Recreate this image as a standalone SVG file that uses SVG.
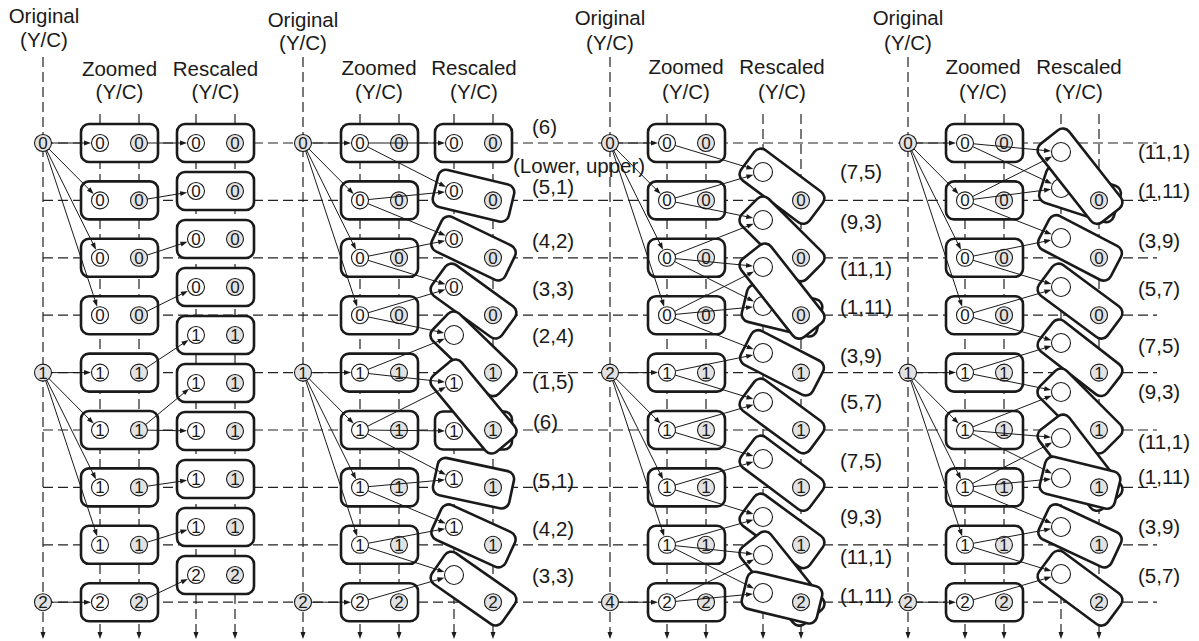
<svg xmlns="http://www.w3.org/2000/svg" width="1199" height="641" viewBox="0 0 1199 641">
<style>
.gl line{stroke:#222;stroke-width:1.2;stroke-dasharray:10 5;fill:none}
.gl .v{marker-end:url(#ad)}
.bx{fill:#fff;stroke:#1a1a1a;stroke-width:2.6}
.w{fill:#fff;stroke:#1a1a1a;stroke-width:1.1}
.gy{fill:#e2e2e2;stroke:#1a1a1a;stroke-width:1.1}
.d{font-family:"Liberation Sans",Arial,sans-serif;font-size:17px;text-anchor:middle;fill:#1a1a1a}
.t{font-family:"Liberation Sans",Arial,sans-serif;font-size:20.5px;text-anchor:middle;fill:#1a1a1a}
.l{font-family:"Liberation Sans",Arial,sans-serif;font-size:20.5px;fill:#1a1a1a}
.ar line{stroke:#1a1a1a;stroke-width:1;fill:none;marker-end:url(#ah)}
.ar line.e{marker-end:url(#ae)}
</style>
<defs>
<marker id="ah" markerUnits="userSpaceOnUse" markerWidth="8" markerHeight="6" refX="16" refY="3" orient="auto" overflow="visible"><path d="M0,0.5 L7,3 L0,5.5 z" fill="#1a1a1a"/></marker>
<marker id="ae" markerUnits="userSpaceOnUse" markerWidth="8" markerHeight="6" refX="17" refY="3" orient="auto" overflow="visible"><path d="M0,0.5 L7,3 L0,5.5 z" fill="#1a1a1a"/></marker>
<marker id="ad" markerUnits="userSpaceOnUse" markerWidth="8" markerHeight="6" refX="7" refY="3" orient="auto" overflow="visible"><path d="M0,0.5 L7,3 L0,5.5 z" fill="#1a1a1a"/></marker>
</defs>
<g id="grid" class="gl">
<line x1="43" y1="143" x2="1157" y2="143"/>
<line x1="43" y1="200.4" x2="1157" y2="200.4"/>
<line x1="43" y1="257.8" x2="1157" y2="257.8"/>
<line x1="43" y1="315.2" x2="1157" y2="315.2"/>
<line x1="43" y1="372.6" x2="1157" y2="372.6"/>
<line x1="43" y1="430" x2="1157" y2="430"/>
<line x1="43" y1="487.4" x2="1157" y2="487.4"/>
<line x1="43" y1="544.8" x2="1157" y2="544.8"/>
<line x1="43" y1="602.2" x2="1157" y2="602.2"/>
<line class="v" x1="43" y1="57" x2="43" y2="639"/>
<line class="v" x1="303" y1="57" x2="303" y2="639"/>
<line class="v" x1="610" y1="57" x2="610" y2="639"/>
<line class="v" x1="908" y1="57" x2="908" y2="639"/>
<line class="v" x1="100" y1="114" x2="100" y2="639"/>
<line class="v" x1="139" y1="114" x2="139" y2="639"/>
<line class="v" x1="196" y1="114" x2="196" y2="639"/>
<line class="v" x1="235" y1="114" x2="235" y2="639"/>
<line class="v" x1="360" y1="114" x2="360" y2="639"/>
<line class="v" x1="399" y1="114" x2="399" y2="639"/>
<line class="v" x1="454" y1="114" x2="454" y2="639"/>
<line class="v" x1="493" y1="114" x2="493" y2="639"/>
<line class="v" x1="667" y1="114" x2="667" y2="639"/>
<line class="v" x1="706" y1="114" x2="706" y2="639"/>
<line class="v" x1="763" y1="114" x2="763" y2="639"/>
<line class="v" x1="801" y1="114" x2="801" y2="639"/>
<line class="v" x1="965" y1="114" x2="965" y2="639"/>
<line class="v" x1="1004" y1="114" x2="1004" y2="639"/>
<line class="v" x1="1061" y1="114" x2="1061" y2="639"/>
<line class="v" x1="1099" y1="114" x2="1099" y2="639"/>
</g>
<g id="labels">
<text class="t" x="44" y="23">Original</text><text class="t" x="44" y="47">(Y/C)</text>
<text class="t" x="119.5" y="76">Zoomed</text><text class="t" x="119.5" y="99">(Y/C)</text>
<text class="t" x="215.5" y="76">Rescaled</text><text class="t" x="215.5" y="99">(Y/C)</text>
<text class="t" x="303" y="27">Original</text><text class="t" x="303" y="50">(Y/C)</text>
<text class="t" x="379" y="75">Zoomed</text><text class="t" x="379" y="99">(Y/C)</text>
<text class="t" x="474" y="75">Rescaled</text><text class="t" x="474" y="99">(Y/C)</text>
<text class="t" x="610" y="25">Original</text><text class="t" x="610" y="50">(Y/C)</text>
<text class="t" x="686" y="74">Zoomed</text><text class="t" x="686" y="99">(Y/C)</text>
<text class="t" x="782" y="74">Rescaled</text><text class="t" x="782" y="99">(Y/C)</text>
<text class="t" x="908" y="25">Original</text><text class="t" x="908" y="50">(Y/C)</text>
<text class="t" x="983" y="74">Zoomed</text><text class="t" x="983" y="99">(Y/C)</text>
<text class="t" x="1079" y="74">Rescaled</text><text class="t" x="1079" y="99">(Y/C)</text>
<text class="l" x="532" y="133.5">(6)</text>
<text class="l" x="513" y="172.5">(Lower, upper)</text>
<text class="l" x="532" y="193.5">(5,1)</text>
<text class="l" x="532" y="247.5">(4,2)</text>
<text class="l" x="532" y="295.5">(3,3)</text>
<text class="l" x="532" y="342.5">(2,4)</text>
<text class="l" x="532" y="388.5">(1,5)</text>
<text class="l" x="533" y="428.5">(6)</text>
<text class="l" x="532" y="487.5">(5,1)</text>
<text class="l" x="532" y="535.5">(4,2)</text>
<text class="l" x="532" y="582.5">(3,3)</text>
<text class="l" x="840" y="178.5">(7,5)</text>
<text class="l" x="840" y="228.5">(9,3)</text>
<text class="l" x="840" y="275.5">(11,1)</text>
<text class="l" x="840" y="313.5">(1,11)</text>
<text class="l" x="840" y="362.5">(3,9)</text>
<text class="l" x="840" y="408.5">(5,7)</text>
<text class="l" x="840" y="467.5">(7,5)</text>
<text class="l" x="840" y="523.5">(9,3)</text>
<text class="l" x="840" y="563.5">(11,1)</text>
<text class="l" x="840" y="602.5">(1,11)</text>
<text class="l" x="1138" y="158.5">(11,1)</text>
<text class="l" x="1138" y="197.5">(1,11)</text>
<text class="l" x="1138" y="247.5">(3,9)</text>
<text class="l" x="1138" y="295.5">(5,7)</text>
<text class="l" x="1138" y="352.5">(7,5)</text>
<text class="l" x="1138" y="398.5">(9,3)</text>
<text class="l" x="1138" y="448.5">(11,1)</text>
<text class="l" x="1138" y="483.5">(1,11)</text>
<text class="l" x="1138" y="533.5">(3,9)</text>
<text class="l" x="1138" y="582.5">(5,7)</text>
</g>
<!-- Panel 1 -->
<g id="p1-o0"><circle class="gy" cx="43" cy="143" r="8.5"/><text class="d" x="43" y="149">0</text></g>
<g id="p1-o1"><circle class="gy" cx="43" cy="372.6" r="8.5"/><text class="d" x="43" y="378.6">1</text></g>
<g id="p1-o2"><circle class="gy" cx="43" cy="602.2" r="8.5"/><text class="d" x="43" y="608.2">2</text></g>
<g id="p1-z0"><rect class="bx" x="81" y="124" width="77" height="38" rx="8"/><circle class="w" cx="100" cy="143" r="8.5"/><text class="d" x="100" y="149">0</text><circle class="gy" cx="139" cy="143" r="8.5"/><text class="d" x="139" y="149">0</text></g>
<g id="p1-z1"><rect class="bx" x="81" y="181.4" width="77" height="38" rx="8"/><circle class="w" cx="100" cy="200.4" r="8.5"/><text class="d" x="100" y="206.4">0</text><circle class="gy" cx="139" cy="200.4" r="8.5"/><text class="d" x="139" y="206.4">0</text></g>
<g id="p1-z2"><rect class="bx" x="81" y="238.8" width="77" height="38" rx="8"/><circle class="w" cx="100" cy="257.8" r="8.5"/><text class="d" x="100" y="263.8">0</text><circle class="gy" cx="139" cy="257.8" r="8.5"/><text class="d" x="139" y="263.8">0</text></g>
<g id="p1-z3"><rect class="bx" x="81" y="296.2" width="77" height="38" rx="8"/><circle class="w" cx="100" cy="315.2" r="8.5"/><text class="d" x="100" y="321.2">0</text><circle class="gy" cx="139" cy="315.2" r="8.5"/><text class="d" x="139" y="321.2">0</text></g>
<g id="p1-z4"><rect class="bx" x="81" y="353.6" width="77" height="38" rx="8"/><circle class="w" cx="100" cy="372.6" r="8.5"/><text class="d" x="100" y="378.6">1</text><circle class="gy" cx="139" cy="372.6" r="8.5"/><text class="d" x="139" y="378.6">1</text></g>
<g id="p1-z5"><rect class="bx" x="81" y="411" width="77" height="38" rx="8"/><circle class="w" cx="100" cy="430" r="8.5"/><text class="d" x="100" y="436">1</text><circle class="gy" cx="139" cy="430" r="8.5"/><text class="d" x="139" y="436">1</text></g>
<g id="p1-z6"><rect class="bx" x="81" y="468.4" width="77" height="38" rx="8"/><circle class="w" cx="100" cy="487.4" r="8.5"/><text class="d" x="100" y="493.4">1</text><circle class="gy" cx="139" cy="487.4" r="8.5"/><text class="d" x="139" y="493.4">1</text></g>
<g id="p1-z7"><rect class="bx" x="81" y="525.8" width="77" height="38" rx="8"/><circle class="w" cx="100" cy="544.8" r="8.5"/><text class="d" x="100" y="550.8">1</text><circle class="gy" cx="139" cy="544.8" r="8.5"/><text class="d" x="139" y="550.8">1</text></g>
<g id="p1-z8"><rect class="bx" x="81" y="583.2" width="77" height="38" rx="8"/><circle class="w" cx="100" cy="602.2" r="8.5"/><text class="d" x="100" y="608.2">2</text><circle class="gy" cx="139" cy="602.2" r="8.5"/><text class="d" x="139" y="608.2">2</text></g>
<g id="p1-r0"><rect class="bx" x="177" y="124" width="77" height="38" rx="8"/><circle class="w" cx="196" cy="143" r="8.5"/><text class="d" x="196" y="149">0</text><circle class="gy" cx="235" cy="143" r="8.5"/><text class="d" x="235" y="149">0</text></g>
<g id="p1-r1"><rect class="bx" x="177" y="172" width="77" height="38" rx="8"/><circle class="w" cx="196" cy="191" r="8.5"/><text class="d" x="196" y="197">0</text><circle class="gy" cx="235" cy="191" r="8.5"/><text class="d" x="235" y="197">0</text></g>
<g id="p1-r2"><rect class="bx" x="177" y="220" width="77" height="38" rx="8"/><circle class="w" cx="196" cy="239" r="8.5"/><text class="d" x="196" y="245">0</text><circle class="gy" cx="235" cy="239" r="8.5"/><text class="d" x="235" y="245">0</text></g>
<g id="p1-r3"><rect class="bx" x="177" y="268" width="77" height="38" rx="8"/><circle class="w" cx="196" cy="287" r="8.5"/><text class="d" x="196" y="293">0</text><circle class="gy" cx="235" cy="287" r="8.5"/><text class="d" x="235" y="293">0</text></g>
<g id="p1-r4"><rect class="bx" x="177" y="316" width="77" height="38" rx="8"/><circle class="w" cx="196" cy="335" r="8.5"/><text class="d" x="196" y="341">1</text><circle class="gy" cx="235" cy="335" r="8.5"/><text class="d" x="235" y="341">1</text></g>
<g id="p1-r5"><rect class="bx" x="177" y="364" width="77" height="38" rx="8"/><circle class="w" cx="196" cy="383" r="8.5"/><text class="d" x="196" y="389">1</text><circle class="gy" cx="235" cy="383" r="8.5"/><text class="d" x="235" y="389">1</text></g>
<g id="p1-r6"><rect class="bx" x="177" y="412" width="77" height="38" rx="8"/><circle class="w" cx="196" cy="431" r="8.5"/><text class="d" x="196" y="437">1</text><circle class="gy" cx="235" cy="431" r="8.5"/><text class="d" x="235" y="437">1</text></g>
<g id="p1-r7"><rect class="bx" x="177" y="460" width="77" height="38" rx="8"/><circle class="w" cx="196" cy="479" r="8.5"/><text class="d" x="196" y="485">1</text><circle class="gy" cx="235" cy="479" r="8.5"/><text class="d" x="235" y="485">1</text></g>
<g id="p1-r8"><rect class="bx" x="177" y="508" width="77" height="38" rx="8"/><circle class="w" cx="196" cy="527" r="8.5"/><text class="d" x="196" y="533">1</text><circle class="gy" cx="235" cy="527" r="8.5"/><text class="d" x="235" y="533">1</text></g>
<g id="p1-r9"><rect class="bx" x="177" y="556" width="77" height="38" rx="8"/><circle class="w" cx="196" cy="575" r="8.5"/><text class="d" x="196" y="581">2</text><circle class="gy" cx="235" cy="575" r="8.5"/><text class="d" x="235" y="581">2</text></g>
<!-- Panel 2 -->
<g id="p2-o0"><circle class="gy" cx="303" cy="143" r="8.5"/><text class="d" x="303" y="149">0</text></g>
<g id="p2-o1"><circle class="gy" cx="303" cy="372.6" r="8.5"/><text class="d" x="303" y="378.6">1</text></g>
<g id="p2-o2"><circle class="gy" cx="303" cy="602.2" r="8.5"/><text class="d" x="303" y="608.2">2</text></g>
<g id="p2-z0"><rect class="bx" x="341" y="124" width="77" height="38" rx="8"/><circle class="w" cx="360" cy="143" r="8.5"/><text class="d" x="360" y="149">0</text><circle class="gy" cx="399" cy="143" r="8.5"/><text class="d" x="399" y="149">0</text></g>
<g id="p2-z1"><rect class="bx" x="341" y="181.4" width="77" height="38" rx="8"/><circle class="w" cx="360" cy="200.4" r="8.5"/><text class="d" x="360" y="206.4">0</text><circle class="gy" cx="399" cy="200.4" r="8.5"/><text class="d" x="399" y="206.4">0</text></g>
<g id="p2-z2"><rect class="bx" x="341" y="238.8" width="77" height="38" rx="8"/><circle class="w" cx="360" cy="257.8" r="8.5"/><text class="d" x="360" y="263.8">0</text><circle class="gy" cx="399" cy="257.8" r="8.5"/><text class="d" x="399" y="263.8">0</text></g>
<g id="p2-z3"><rect class="bx" x="341" y="296.2" width="77" height="38" rx="8"/><circle class="w" cx="360" cy="315.2" r="8.5"/><text class="d" x="360" y="321.2">0</text><circle class="gy" cx="399" cy="315.2" r="8.5"/><text class="d" x="399" y="321.2">0</text></g>
<g id="p2-z4"><rect class="bx" x="341" y="353.6" width="77" height="38" rx="8"/><circle class="w" cx="360" cy="372.6" r="8.5"/><text class="d" x="360" y="378.6">1</text><circle class="gy" cx="399" cy="372.6" r="8.5"/><text class="d" x="399" y="378.6">1</text></g>
<g id="p2-z5"><rect class="bx" x="341" y="411" width="77" height="38" rx="8"/><circle class="w" cx="360" cy="430" r="8.5"/><text class="d" x="360" y="436">1</text><circle class="gy" cx="399" cy="430" r="8.5"/><text class="d" x="399" y="436">1</text></g>
<g id="p2-z6"><rect class="bx" x="341" y="468.4" width="77" height="38" rx="8"/><circle class="w" cx="360" cy="487.4" r="8.5"/><text class="d" x="360" y="493.4">1</text><circle class="gy" cx="399" cy="487.4" r="8.5"/><text class="d" x="399" y="493.4">1</text></g>
<g id="p2-z7"><rect class="bx" x="341" y="525.8" width="77" height="38" rx="8"/><circle class="w" cx="360" cy="544.8" r="8.5"/><text class="d" x="360" y="550.8">1</text><circle class="gy" cx="399" cy="544.8" r="8.5"/><text class="d" x="399" y="550.8">1</text></g>
<g id="p2-z8"><rect class="bx" x="341" y="583.2" width="77" height="38" rx="8"/><circle class="w" cx="360" cy="602.2" r="8.5"/><text class="d" x="360" y="608.2">2</text><circle class="gy" cx="399" cy="602.2" r="8.5"/><text class="d" x="399" y="608.2">2</text></g>
<g id="p2-r0"><rect class="bx" x="435" y="124" width="77" height="38" rx="8"/><circle class="w" cx="454" cy="143" r="8.5"/><text class="d" x="454" y="149">0</text><circle class="gy" cx="493" cy="143" r="8.5"/><text class="d" x="493" y="149">0</text></g>
<g id="p2-r1"><rect class="bx" x="-39.05" y="-19" width="78.1" height="38" rx="8" transform="translate(473.5 195.7) rotate(13.55)"/><circle class="w" cx="454" cy="191" r="8.5"/><text class="d" x="454" y="197">0</text><circle class="gy" cx="493" cy="200.4" r="8.5"/><text class="d" x="493" y="206.4">0</text></g>
<g id="p2-r2"><rect class="bx" x="-40.65" y="-19" width="81.3" height="38" rx="8" transform="translate(473.5 248.4) rotate(25.74)"/><circle class="w" cx="454" cy="239" r="8.5"/><text class="d" x="454" y="245">0</text><circle class="gy" cx="493" cy="257.8" r="8.5"/><text class="d" x="493" y="263.8">0</text></g>
<g id="p2-r3"><rect class="bx" x="-43.05" y="-19" width="86.1" height="38" rx="8" transform="translate(473.5 301.1) rotate(35.87)"/><circle class="w" cx="454" cy="287" r="8.5"/><text class="d" x="454" y="293">0</text><circle class="gy" cx="493" cy="315.2" r="8.5"/><text class="d" x="493" y="321.2">0</text></g>
<g id="p2-r4"><rect class="bx" x="-46.1" y="-19" width="92.2" height="38" rx="8" transform="translate(473.5 353.8) rotate(43.95)"/><circle class="w" cx="454" cy="335" r="9.5"/><circle class="gy" cx="493" cy="372.6" r="8.5"/><text class="d" x="493" y="378.6">1</text></g>
<g id="p2-r6"><rect class="bx" x="435" y="411.5" width="77" height="38" rx="8"/><circle class="w" cx="454" cy="431" r="8.5"/><text class="d" x="454" y="437">1</text><circle class="gy" cx="493" cy="430" r="8.5"/><text class="d" x="493" y="436">1</text></g>
<g id="p2-r5"><rect class="bx" x="-49.55" y="-19" width="99.1" height="38" rx="8" transform="translate(473.5 406.5) rotate(50.31)"/><circle class="w" cx="454" cy="383" r="8.5"/><text class="d" x="454" y="389">1</text><circle class="gy" cx="493" cy="430" r="8.5"/><text class="d" x="493" y="436">1</text></g>
<g id="p2-r7"><rect class="bx" x="-38.95" y="-19" width="77.9" height="38" rx="8" transform="translate(473.5 483.2) rotate(12.15)"/><circle class="w" cx="454" cy="479" r="8.5"/><text class="d" x="454" y="485">1</text><circle class="gy" cx="493" cy="487.4" r="8.5"/><text class="d" x="493" y="493.4">1</text></g>
<g id="p2-r8"><rect class="bx" x="-40.45" y="-19" width="80.9" height="38" rx="8" transform="translate(473.5 535.9) rotate(24.53)"/><circle class="w" cx="454" cy="527" r="8.5"/><text class="d" x="454" y="533">1</text><circle class="gy" cx="493" cy="544.8" r="8.5"/><text class="d" x="493" y="550.8">1</text></g>
<g id="p2-r9"><rect class="bx" x="-42.75" y="-19" width="85.5" height="38" rx="8" transform="translate(473.5 588.6) rotate(34.9)"/><circle class="w" cx="454" cy="575" r="9.5"/><circle class="gy" cx="493" cy="602.2" r="8.5"/><text class="d" x="493" y="608.2">2</text></g>
<!-- Panel 3 -->
<g id="p3-o0"><circle class="gy" cx="610" cy="143" r="8.5"/><text class="d" x="610" y="149">0</text></g>
<g id="p3-o1"><circle class="gy" cx="610" cy="372.6" r="8.5"/><text class="d" x="610" y="378.6">2</text></g>
<g id="p3-o2"><circle class="gy" cx="610" cy="602.2" r="8.5"/><text class="d" x="610" y="608.2">4</text></g>
<g id="p3-z0"><rect class="bx" x="648" y="124" width="77" height="38" rx="8"/><circle class="w" cx="667" cy="143" r="8.5"/><text class="d" x="667" y="149">0</text><circle class="gy" cx="706" cy="143" r="8.5"/><text class="d" x="706" y="149">0</text></g>
<g id="p3-z1"><rect class="bx" x="648" y="181.4" width="77" height="38" rx="8"/><circle class="w" cx="667" cy="200.4" r="8.5"/><text class="d" x="667" y="206.4">0</text><circle class="gy" cx="706" cy="200.4" r="8.5"/><text class="d" x="706" y="206.4">0</text></g>
<g id="p3-z2"><rect class="bx" x="648" y="238.8" width="77" height="38" rx="8"/><circle class="w" cx="667" cy="257.8" r="8.5"/><text class="d" x="667" y="263.8">0</text><circle class="gy" cx="706" cy="257.8" r="8.5"/><text class="d" x="706" y="263.8">0</text></g>
<g id="p3-z3"><rect class="bx" x="648" y="296.2" width="77" height="38" rx="8"/><circle class="w" cx="667" cy="315.2" r="8.5"/><text class="d" x="667" y="321.2">0</text><circle class="gy" cx="706" cy="315.2" r="8.5"/><text class="d" x="706" y="321.2">0</text></g>
<g id="p3-z4"><rect class="bx" x="648" y="353.6" width="77" height="38" rx="8"/><circle class="w" cx="667" cy="372.6" r="8.5"/><text class="d" x="667" y="378.6">1</text><circle class="gy" cx="706" cy="372.6" r="8.5"/><text class="d" x="706" y="378.6">1</text></g>
<g id="p3-z5"><rect class="bx" x="648" y="411" width="77" height="38" rx="8"/><circle class="w" cx="667" cy="430" r="8.5"/><text class="d" x="667" y="436">1</text><circle class="gy" cx="706" cy="430" r="8.5"/><text class="d" x="706" y="436">1</text></g>
<g id="p3-z6"><rect class="bx" x="648" y="468.4" width="77" height="38" rx="8"/><circle class="w" cx="667" cy="487.4" r="8.5"/><text class="d" x="667" y="493.4">1</text><circle class="gy" cx="706" cy="487.4" r="8.5"/><text class="d" x="706" y="493.4">1</text></g>
<g id="p3-z7"><rect class="bx" x="648" y="525.8" width="77" height="38" rx="8"/><circle class="w" cx="667" cy="544.8" r="8.5"/><text class="d" x="667" y="550.8">1</text><circle class="gy" cx="706" cy="544.8" r="8.5"/><text class="d" x="706" y="550.8">1</text></g>
<g id="p3-z8"><rect class="bx" x="648" y="583.2" width="77" height="38" rx="8"/><circle class="w" cx="667" cy="602.2" r="8.5"/><text class="d" x="667" y="608.2">2</text><circle class="gy" cx="706" cy="602.2" r="8.5"/><text class="d" x="706" y="608.2">2</text></g>
<g id="p3-r0"><rect class="bx" x="-42.7" y="-19" width="85.4" height="38" rx="8" transform="translate(782 186.2) rotate(36.78)"/><circle class="w" cx="763" cy="172" r="9.5"/><circle class="gy" cx="801" cy="200.4" r="8.5"/><text class="d" x="801" y="206.4">0</text></g>
<g id="p3-r1"><rect class="bx" x="-45.8" y="-19" width="91.6" height="38" rx="8" transform="translate(782 238.9) rotate(44.85)"/><circle class="w" cx="763" cy="220" r="9.5"/><circle class="gy" cx="801" cy="257.8" r="8.5"/><text class="d" x="801" y="263.8">0</text></g>
<g id="p3-r3"><rect class="bx" x="-38.55" y="-19" width="77.1" height="38" rx="8" transform="translate(782 310.6) rotate(13.61)"/><circle class="w" cx="763" cy="306" r="9.5"/><circle class="gy" cx="801" cy="315.2" r="8.5"/><text class="d" x="801" y="321.2">0</text></g>
<g id="p3-r2"><rect class="bx" x="-49.7" y="-19" width="99.4" height="38" rx="8" transform="translate(782 291.1) rotate(51.75)"/><circle class="w" cx="763" cy="267" r="9.5"/><circle class="gy" cx="801" cy="315.2" r="8.5"/><text class="d" x="801" y="321.2">0</text></g>
<g id="p3-r4"><rect class="bx" x="-40.4" y="-19" width="80.8" height="38" rx="8" transform="translate(782 362.8) rotate(27.28)"/><circle class="w" cx="763" cy="353" r="9.5"/><circle class="gy" cx="801" cy="372.6" r="8.5"/><text class="d" x="801" y="378.6">1</text></g>
<g id="p3-r5"><rect class="bx" x="-42.6" y="-19" width="85.2" height="38" rx="8" transform="translate(782 416) rotate(36.38)"/><circle class="w" cx="763" cy="402" r="9.5"/><circle class="gy" cx="801" cy="430" r="8.5"/><text class="d" x="801" y="436">1</text></g>
<g id="p3-r6"><rect class="bx" x="-42.7" y="-19" width="85.4" height="38" rx="8" transform="translate(782 473.2) rotate(36.78)"/><circle class="w" cx="763" cy="459" r="9.5"/><circle class="gy" cx="801" cy="487.4" r="8.5"/><text class="d" x="801" y="493.4">1</text></g>
<g id="p3-r7"><rect class="bx" x="-42.55" y="-19" width="85.1" height="38" rx="8" transform="translate(782 530.9) rotate(36.19)"/><circle class="w" cx="763" cy="517" r="9.5"/><circle class="gy" cx="801" cy="544.8" r="8.5"/><text class="d" x="801" y="550.8">1</text></g>
<g id="p3-r8"><rect class="bx" x="-49.3" y="-19" width="98.6" height="38" rx="8" transform="translate(782 578.6) rotate(51.16)"/><circle class="w" cx="763" cy="555" r="9.5"/><circle class="gy" cx="801" cy="602.2" r="8.5"/><text class="d" x="801" y="608.2">2</text></g>
<g id="p3-r9"><rect class="bx" x="-38.55" y="-19" width="77.1" height="38" rx="8" transform="translate(782 597.6) rotate(13.61)"/><circle class="w" cx="763" cy="593" r="9.5"/><circle class="gy" cx="801" cy="602.2" r="8.5"/><text class="d" x="801" y="608.2">2</text></g>
<!-- Panel 4 -->
<g id="p4-o0"><circle class="gy" cx="908" cy="143" r="8.5"/><text class="d" x="908" y="149">0</text></g>
<g id="p4-o1"><circle class="gy" cx="908" cy="372.6" r="8.5"/><text class="d" x="908" y="378.6">1</text></g>
<g id="p4-o2"><circle class="gy" cx="908" cy="602.2" r="8.5"/><text class="d" x="908" y="608.2">2</text></g>
<g id="p4-z0"><rect class="bx" x="946" y="124" width="77" height="38" rx="8"/><circle class="w" cx="965" cy="143" r="8.5"/><text class="d" x="965" y="149">0</text><circle class="gy" cx="1004" cy="143" r="8.5"/><text class="d" x="1004" y="149">0</text></g>
<g id="p4-z1"><rect class="bx" x="946" y="181.4" width="77" height="38" rx="8"/><circle class="w" cx="965" cy="200.4" r="8.5"/><text class="d" x="965" y="206.4">0</text><circle class="gy" cx="1004" cy="200.4" r="8.5"/><text class="d" x="1004" y="206.4">0</text></g>
<g id="p4-z2"><rect class="bx" x="946" y="238.8" width="77" height="38" rx="8"/><circle class="w" cx="965" cy="257.8" r="8.5"/><text class="d" x="965" y="263.8">0</text><circle class="gy" cx="1004" cy="257.8" r="8.5"/><text class="d" x="1004" y="263.8">0</text></g>
<g id="p4-z3"><rect class="bx" x="946" y="296.2" width="77" height="38" rx="8"/><circle class="w" cx="965" cy="315.2" r="8.5"/><text class="d" x="965" y="321.2">0</text><circle class="gy" cx="1004" cy="315.2" r="8.5"/><text class="d" x="1004" y="321.2">0</text></g>
<g id="p4-z4"><rect class="bx" x="946" y="353.6" width="77" height="38" rx="8"/><circle class="w" cx="965" cy="372.6" r="8.5"/><text class="d" x="965" y="378.6">1</text><circle class="gy" cx="1004" cy="372.6" r="8.5"/><text class="d" x="1004" y="378.6">1</text></g>
<g id="p4-z5"><rect class="bx" x="946" y="411" width="77" height="38" rx="8"/><circle class="w" cx="965" cy="430" r="8.5"/><text class="d" x="965" y="436">1</text><circle class="gy" cx="1004" cy="430" r="8.5"/><text class="d" x="1004" y="436">1</text></g>
<g id="p4-z6"><rect class="bx" x="946" y="468.4" width="77" height="38" rx="8"/><circle class="w" cx="965" cy="487.4" r="8.5"/><text class="d" x="965" y="493.4">1</text><circle class="gy" cx="1004" cy="487.4" r="8.5"/><text class="d" x="1004" y="493.4">1</text></g>
<g id="p4-z7"><rect class="bx" x="946" y="525.8" width="77" height="38" rx="8"/><circle class="w" cx="965" cy="544.8" r="8.5"/><text class="d" x="965" y="550.8">1</text><circle class="gy" cx="1004" cy="544.8" r="8.5"/><text class="d" x="1004" y="550.8">1</text></g>
<g id="p4-z8"><rect class="bx" x="946" y="583.2" width="77" height="38" rx="8"/><circle class="w" cx="965" cy="602.2" r="8.5"/><text class="d" x="965" y="608.2">2</text><circle class="gy" cx="1004" cy="602.2" r="8.5"/><text class="d" x="1004" y="608.2">2</text></g>
<g id="p4-r1"><rect class="bx" x="-39" y="-19" width="78" height="38" rx="8" transform="translate(1080 194.2) rotate(18.07)"/><circle class="w" cx="1061" cy="188" r="9.5"/><circle class="gy" cx="1099" cy="200.4" r="8.5"/><text class="d" x="1099" y="206.4">0</text></g>
<g id="p4-r0"><rect class="bx" x="-49.75" y="-19" width="99.5" height="38" rx="8" transform="translate(1080 176.2) rotate(51.86)"/><circle class="w" cx="1061" cy="152" r="9.5"/><circle class="gy" cx="1099" cy="200.4" r="8.5"/><text class="d" x="1099" y="206.4">0</text></g>
<g id="p4-r2"><rect class="bx" x="-40.45" y="-19" width="80.9" height="38" rx="8" transform="translate(1080 247.9) rotate(27.52)"/><circle class="w" cx="1061" cy="238" r="9.5"/><circle class="gy" cx="1099" cy="257.8" r="8.5"/><text class="d" x="1099" y="263.8">0</text></g>
<g id="p4-r3"><rect class="bx" x="-42.65" y="-19" width="85.3" height="38" rx="8" transform="translate(1080 301.1) rotate(36.58)"/><circle class="w" cx="1061" cy="287" r="9.5"/><circle class="gy" cx="1099" cy="315.2" r="8.5"/><text class="d" x="1099" y="321.2">0</text></g>
<g id="p4-r4"><rect class="bx" x="-43.1" y="-19" width="86.2" height="38" rx="8" transform="translate(1080 357.8) rotate(37.92)"/><circle class="w" cx="1061" cy="343" r="9.5"/><circle class="gy" cx="1099" cy="372.6" r="8.5"/><text class="d" x="1099" y="378.6">1</text></g>
<g id="p4-r5"><rect class="bx" x="-45.85" y="-19" width="91.7" height="38" rx="8" transform="translate(1080 411) rotate(45)"/><circle class="w" cx="1061" cy="392" r="9.5"/><circle class="gy" cx="1099" cy="430" r="8.5"/><text class="d" x="1099" y="436">1</text></g>
<g id="p4-r6"><rect class="bx" x="-50.15" y="-19" width="100.3" height="38" rx="8" transform="translate(1080 462.7) rotate(52.43)"/><circle class="w" cx="1061" cy="438" r="9.5"/><circle class="gy" cx="1099" cy="487.4" r="8.5"/><text class="d" x="1099" y="493.4">1</text></g>
<g id="p4-r7"><rect class="bx" x="-38.55" y="-19" width="77.1" height="38" rx="8" transform="translate(1080 482.7) rotate(13.89)"/><circle class="w" cx="1061" cy="478" r="9.5"/><circle class="gy" cx="1099" cy="487.4" r="8.5"/><text class="d" x="1099" y="493.4">1</text></g>
<g id="p4-r8"><rect class="bx" x="-40" y="-19" width="80" height="38" rx="8" transform="translate(1080 535.9) rotate(25.1)"/><circle class="w" cx="1061" cy="527" r="9.5"/><circle class="gy" cx="1099" cy="544.8" r="8.5"/><text class="d" x="1099" y="550.8">1</text></g>
<g id="p4-r9"><rect class="bx" x="-42.65" y="-19" width="85.3" height="38" rx="8" transform="translate(1080 588.1) rotate(36.58)"/><circle class="w" cx="1061" cy="574" r="9.5"/><circle class="gy" cx="1099" cy="602.2" r="8.5"/><text class="d" x="1099" y="608.2">2</text></g>
<g id="connectors" class="ar">
<!-- fans -->
<line x1="43" y1="143" x2="100" y2="143" stroke-dasharray="0 8.5 36 999"/>
<line x1="43" y1="143" x2="100" y2="200.4" stroke-dasharray="0 8.5 59.9 999"/>
<line x1="43" y1="143" x2="100" y2="257.8" stroke-dasharray="0 8.5 107.2 999"/>
<line x1="43" y1="143" x2="100" y2="315.2" stroke-dasharray="0 8.5 160.4 999"/>
<line x1="43" y1="372.6" x2="100" y2="372.6" stroke-dasharray="0 8.5 36 999"/>
<line x1="43" y1="372.6" x2="100" y2="430" stroke-dasharray="0 8.5 59.9 999"/>
<line x1="43" y1="372.6" x2="100" y2="487.4" stroke-dasharray="0 8.5 107.2 999"/>
<line x1="43" y1="372.6" x2="100" y2="544.8" stroke-dasharray="0 8.5 160.4 999"/>
<line x1="43" y1="602.2" x2="100" y2="602.2" stroke-dasharray="0 8.5 36 999"/>
<line x1="303" y1="143" x2="360" y2="143" stroke-dasharray="0 8.5 36 999"/>
<line x1="303" y1="143" x2="360" y2="200.4" stroke-dasharray="0 8.5 59.9 999"/>
<line x1="303" y1="143" x2="360" y2="257.8" stroke-dasharray="0 8.5 107.2 999"/>
<line x1="303" y1="143" x2="360" y2="315.2" stroke-dasharray="0 8.5 160.4 999"/>
<line x1="303" y1="372.6" x2="360" y2="372.6" stroke-dasharray="0 8.5 36 999"/>
<line x1="303" y1="372.6" x2="360" y2="430" stroke-dasharray="0 8.5 59.9 999"/>
<line x1="303" y1="372.6" x2="360" y2="487.4" stroke-dasharray="0 8.5 107.2 999"/>
<line x1="303" y1="372.6" x2="360" y2="544.8" stroke-dasharray="0 8.5 160.4 999"/>
<line x1="303" y1="602.2" x2="360" y2="602.2" stroke-dasharray="0 8.5 36 999"/>
<line x1="610" y1="143" x2="667" y2="143" stroke-dasharray="0 8.5 36 999"/>
<line x1="610" y1="143" x2="667" y2="200.4" stroke-dasharray="0 8.5 59.9 999"/>
<line x1="610" y1="143" x2="667" y2="257.8" stroke-dasharray="0 8.5 107.2 999"/>
<line x1="610" y1="143" x2="667" y2="315.2" stroke-dasharray="0 8.5 160.4 999"/>
<line x1="610" y1="372.6" x2="667" y2="372.6" stroke-dasharray="0 8.5 36 999"/>
<line x1="610" y1="372.6" x2="667" y2="430" stroke-dasharray="0 8.5 59.9 999"/>
<line x1="610" y1="372.6" x2="667" y2="487.4" stroke-dasharray="0 8.5 107.2 999"/>
<line x1="610" y1="372.6" x2="667" y2="544.8" stroke-dasharray="0 8.5 160.4 999"/>
<line x1="610" y1="602.2" x2="667" y2="602.2" stroke-dasharray="0 8.5 36 999"/>
<line x1="908" y1="143" x2="965" y2="143" stroke-dasharray="0 8.5 36 999"/>
<line x1="908" y1="143" x2="965" y2="200.4" stroke-dasharray="0 8.5 59.9 999"/>
<line x1="908" y1="143" x2="965" y2="257.8" stroke-dasharray="0 8.5 107.2 999"/>
<line x1="908" y1="143" x2="965" y2="315.2" stroke-dasharray="0 8.5 160.4 999"/>
<line x1="908" y1="372.6" x2="965" y2="372.6" stroke-dasharray="0 8.5 36 999"/>
<line x1="908" y1="372.6" x2="965" y2="430" stroke-dasharray="0 8.5 59.9 999"/>
<line x1="908" y1="372.6" x2="965" y2="487.4" stroke-dasharray="0 8.5 107.2 999"/>
<line x1="908" y1="372.6" x2="965" y2="544.8" stroke-dasharray="0 8.5 160.4 999"/>
<line x1="908" y1="602.2" x2="965" y2="602.2" stroke-dasharray="0 8.5 36 999"/>
<!-- panel 1 zoomed to rescaled -->
<line x1="139" y1="143" x2="196" y2="143" stroke-dasharray="0 8.5 36 999"/>
<line x1="139" y1="200.4" x2="196" y2="191" stroke-dasharray="0 8.5 36.77 999"/>
<line x1="139" y1="257.8" x2="196" y2="239" stroke-dasharray="0 8.5 39.02 999"/>
<line x1="139" y1="315.2" x2="196" y2="287" stroke-dasharray="0 8.5 42.59 999"/>
<line x1="139" y1="372.6" x2="196" y2="335" stroke-dasharray="0 8.5 47.28 999"/>
<line x1="139" y1="430" x2="196" y2="383" stroke-dasharray="0 8.5 52.88 999"/>
<line x1="139" y1="430" x2="196" y2="431" stroke-dasharray="0 8.5 36.01 999"/>
<line x1="139" y1="487.4" x2="196" y2="479" stroke-dasharray="0 8.5 36.62 999"/>
<line x1="139" y1="544.8" x2="196" y2="527" stroke-dasharray="0 8.5 38.71 999"/>
<line x1="139" y1="602.2" x2="196" y2="575" stroke-dasharray="0 8.5 42.16 999"/>
<!-- panel 2 -->
<line x1="360" y1="143" x2="454" y2="143" stroke-dasharray="0 8.5 73 999"/>
<line x1="360" y1="143" x2="454" y2="191" stroke-dasharray="0 8.5 84.55 999"/>
<line x1="360" y1="200.4" x2="454" y2="191" stroke-dasharray="0 8.5 73.47 999"/>
<line x1="360" y1="200.4" x2="454" y2="239" stroke-dasharray="0 8.5 80.62 999"/>
<line x1="360" y1="257.8" x2="454" y2="239" stroke-dasharray="0 8.5 74.86 999"/>
<line x1="360" y1="257.8" x2="454" y2="287" stroke-dasharray="0 8.5 77.43 999"/>
<line x1="360" y1="315.2" x2="454" y2="287" stroke-dasharray="0 8.5 77.14 999"/>
<line class="e" x1="360" y1="315.2" x2="454" y2="335" stroke-dasharray="0 8.5 74.06 999"/>
<line class="e" x1="360" y1="372.6" x2="454" y2="335" stroke-dasharray="0 8.5 79.24 999"/>
<line x1="360" y1="372.6" x2="454" y2="383" stroke-dasharray="0 8.5 73.57 999"/>
<line x1="360" y1="430" x2="454" y2="383" stroke-dasharray="0 8.5 84.1 999"/>
<line x1="360" y1="430" x2="454" y2="431" stroke-dasharray="0 8.5 73.01 999"/>
<line x1="360" y1="430" x2="454" y2="479" stroke-dasharray="0 8.5 85 999"/>
<line x1="360" y1="487.4" x2="454" y2="479" stroke-dasharray="0 8.5 73.37 999"/>
<line x1="360" y1="487.4" x2="454" y2="527" stroke-dasharray="0 8.5 81 999"/>
<line x1="360" y1="544.8" x2="454" y2="527" stroke-dasharray="0 8.5 74.67 999"/>
<line class="e" x1="360" y1="544.8" x2="454" y2="575" stroke-dasharray="0 8.5 76.73 999"/>
<line class="e" x1="360" y1="602.2" x2="454" y2="575" stroke-dasharray="0 8.5 75.86 999"/>
<!-- panel 3 -->
<line class="e" x1="667" y1="143" x2="763" y2="172" stroke-dasharray="0 8.5 78.28 999"/>
<line class="e" x1="667" y1="200.4" x2="763" y2="172" stroke-dasharray="0 8.5 78.11 999"/>
<line class="e" x1="667" y1="200.4" x2="763" y2="220" stroke-dasharray="0 8.5 75.98 999"/>
<line class="e" x1="667" y1="257.8" x2="763" y2="220" stroke-dasharray="0 8.5 81.17 999"/>
<line class="e" x1="667" y1="257.8" x2="763" y2="267" stroke-dasharray="0 8.5 74.44 999"/>
<line class="e" x1="667" y1="257.8" x2="763" y2="306" stroke-dasharray="0 8.5 85.42 999"/>
<line class="e" x1="667" y1="315.2" x2="763" y2="267" stroke-dasharray="0 8.5 85.42 999"/>
<line class="e" x1="667" y1="315.2" x2="763" y2="306" stroke-dasharray="0 8.5 74.44 999"/>
<line class="e" x1="667" y1="315.2" x2="763" y2="353" stroke-dasharray="0 8.5 81.17 999"/>
<line class="e" x1="667" y1="372.6" x2="763" y2="353" stroke-dasharray="0 8.5 75.98 999"/>
<line class="e" x1="667" y1="372.6" x2="763" y2="402" stroke-dasharray="0 8.5 78.4 999"/>
<line class="e" x1="667" y1="430" x2="763" y2="402" stroke-dasharray="0 8.5 78 999"/>
<line class="e" x1="667" y1="430" x2="763" y2="459" stroke-dasharray="0 8.5 78.28 999"/>
<line class="e" x1="667" y1="487.4" x2="763" y2="459" stroke-dasharray="0 8.5 78.11 999"/>
<line class="e" x1="667" y1="487.4" x2="763" y2="517" stroke-dasharray="0 8.5 78.46 999"/>
<line class="e" x1="667" y1="544.8" x2="763" y2="517" stroke-dasharray="0 8.5 77.94 999"/>
<line class="e" x1="667" y1="544.8" x2="763" y2="555" stroke-dasharray="0 8.5 74.54 999"/>
<line class="e" x1="667" y1="544.8" x2="763" y2="593" stroke-dasharray="0 8.5 85.42 999"/>
<line class="e" x1="667" y1="602.2" x2="763" y2="555" stroke-dasharray="0 8.5 84.98 999"/>
<line class="e" x1="667" y1="602.2" x2="763" y2="593" stroke-dasharray="0 8.5 74.44 999"/>
<!-- panel 4 -->
<line class="e" x1="965" y1="143" x2="1061" y2="152" stroke-dasharray="0 8.5 74.42 999"/>
<line class="e" x1="965" y1="143" x2="1061" y2="188" stroke-dasharray="0 8.5 84.02 999"/>
<line class="e" x1="965" y1="200.4" x2="1061" y2="152" stroke-dasharray="0 8.5 85.51 999"/>
<line class="e" x1="965" y1="200.4" x2="1061" y2="188" stroke-dasharray="0 8.5 74.8 999"/>
<line class="e" x1="965" y1="200.4" x2="1061" y2="238" stroke-dasharray="0 8.5 81.1 999"/>
<line class="e" x1="965" y1="257.8" x2="1061" y2="238" stroke-dasharray="0 8.5 76.02 999"/>
<line class="e" x1="965" y1="257.8" x2="1061" y2="287" stroke-dasharray="0 8.5 78.34 999"/>
<line class="e" x1="965" y1="315.2" x2="1061" y2="287" stroke-dasharray="0 8.5 78.06 999"/>
<line class="e" x1="965" y1="315.2" x2="1061" y2="343" stroke-dasharray="0 8.5 77.94 999"/>
<line class="e" x1="965" y1="372.6" x2="1061" y2="343" stroke-dasharray="0 8.5 78.46 999"/>
<line class="e" x1="965" y1="372.6" x2="1061" y2="392" stroke-dasharray="0 8.5 75.94 999"/>
<line class="e" x1="965" y1="430" x2="1061" y2="392" stroke-dasharray="0 8.5 81.25 999"/>
<line class="e" x1="965" y1="430" x2="1061" y2="438" stroke-dasharray="0 8.5 74.33 999"/>
<line class="e" x1="965" y1="430" x2="1061" y2="478" stroke-dasharray="0 8.5 85.33 999"/>
<line class="e" x1="965" y1="487.4" x2="1061" y2="438" stroke-dasharray="0 8.5 85.96 999"/>
<line class="e" x1="965" y1="487.4" x2="1061" y2="478" stroke-dasharray="0 8.5 74.46 999"/>
<line class="e" x1="965" y1="487.4" x2="1061" y2="527" stroke-dasharray="0 8.5 81.85 999"/>
<line class="e" x1="965" y1="544.8" x2="1061" y2="527" stroke-dasharray="0 8.5 75.64 999"/>
<line class="e" x1="965" y1="544.8" x2="1061" y2="574" stroke-dasharray="0 8.5 78.34 999"/>
<line class="e" x1="965" y1="602.2" x2="1061" y2="574" stroke-dasharray="0 8.5 78.06 999"/>
</g>
</svg>
